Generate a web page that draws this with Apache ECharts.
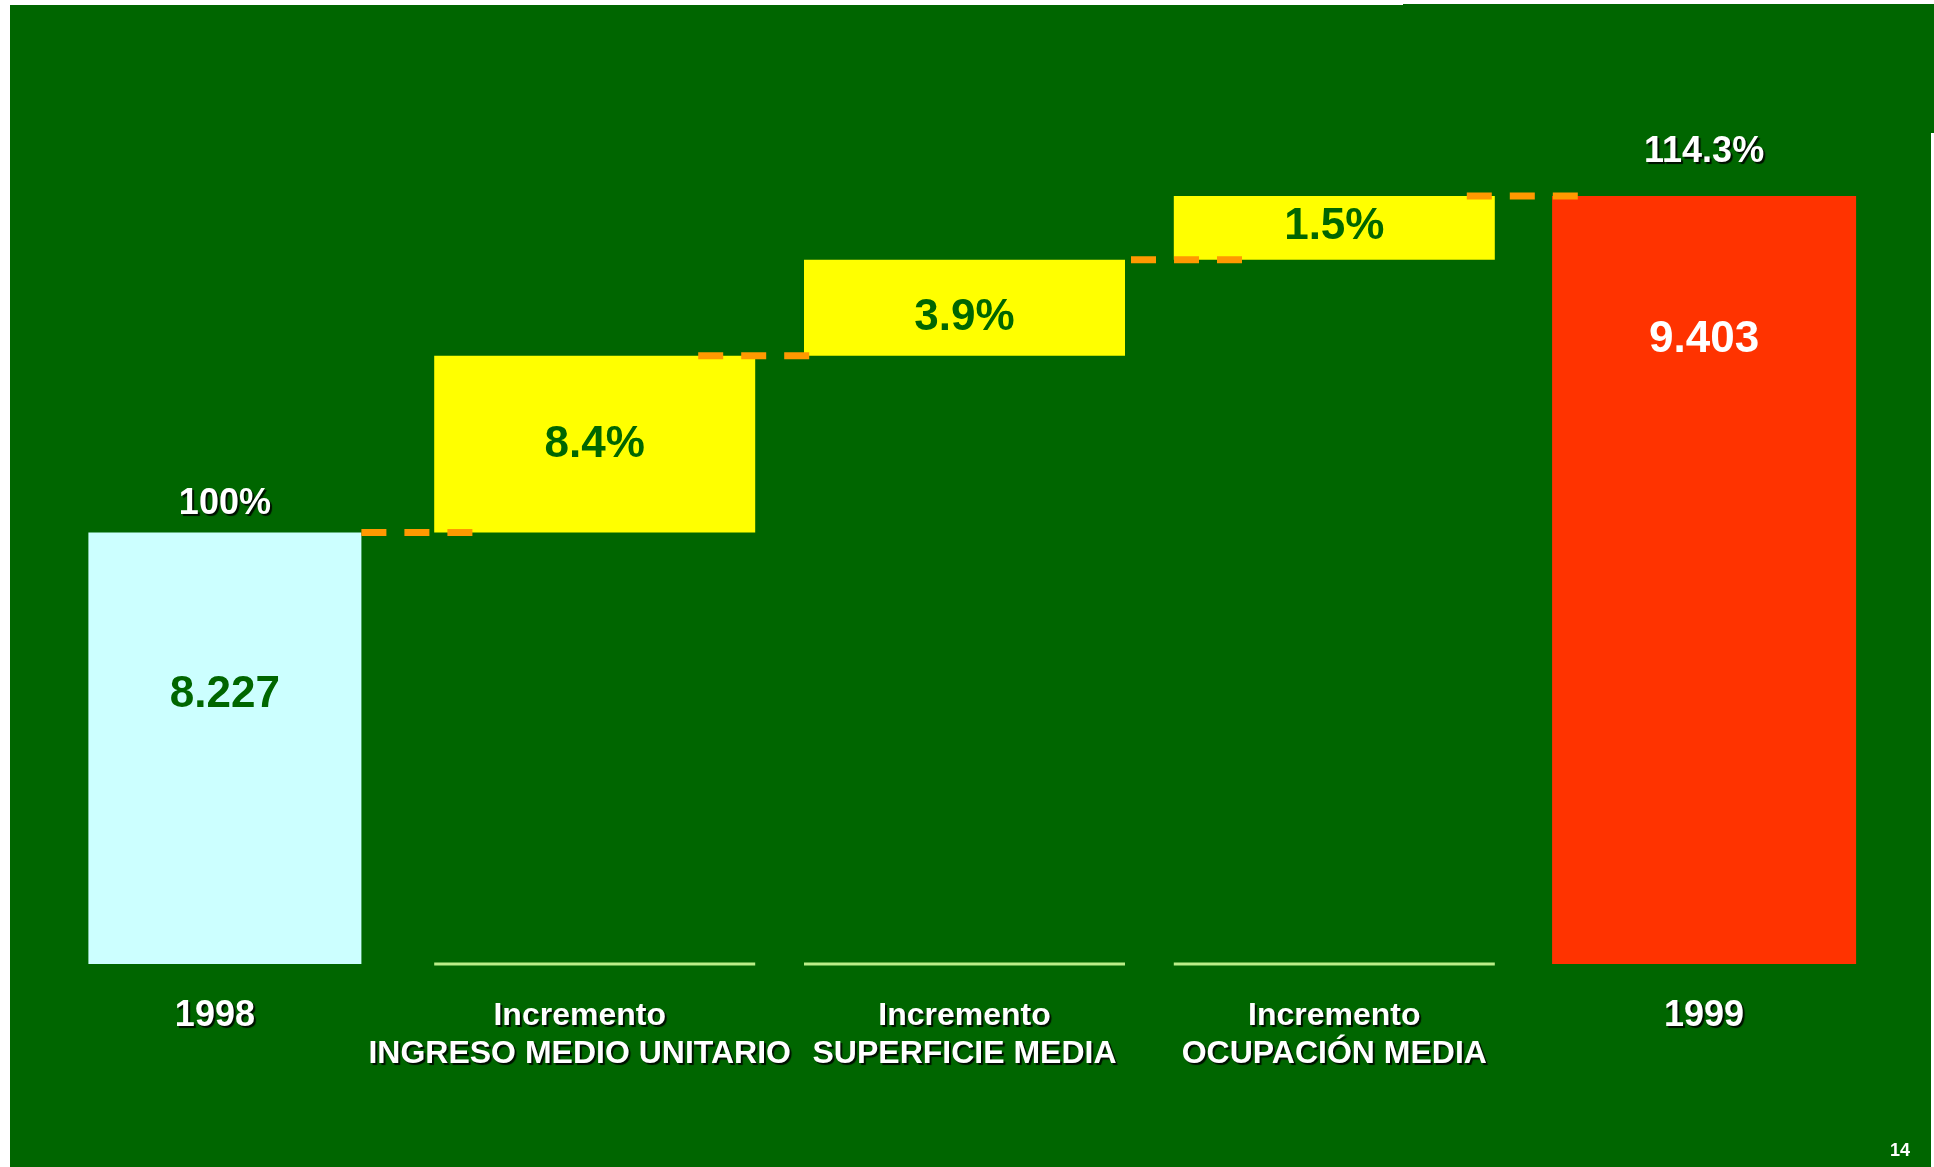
<!DOCTYPE html>
<html>
<head>
<meta charset="utf-8">
<title>Incremento 1998-1999</title>
<script src="https://cdn.jsdelivr.net/npm/echarts@6/dist/echarts.min.js"></script>
<style>
    html,body{margin:0;padding:0;background:#ffffff;}
    #main{width:1934px;height:1167px;}
</style>
</head>
<body>
<div id="main"></div>
<script>
var categories=['1998','Incremento\nINGRESO MEDIO UNITARIO','Incremento\nSUPERFICIE MEDIA','Incremento\nOCUPACIÓN MEDIA','1999'];
// altura de cada barra (100 = barra 1999)
var barLow=[0,56.2,79.2,91.7,0];
var barHigh=[56.2,79.2,91.7,100,100];
var valueLabels=['8.227','8.4%','3.9%','1.5%','9.403'];
var topLabels=['100%','','','','114.3%'];

// estilos
var fontName='"Liberation Sans", Arial, Helvetica, sans-serif';
var green='#006600';
var barColors=['#ccffff','#ffff00','#ffff00','#ffff00','#ff3300'];
var labelColors=[green,green,green,green,'#ffffff'];
var barWidths=[273,321,321,321,304];
var insideFromTop=[162,89,58,31,144];       //distancia del texto interior al borde superior
var topGap=[28,0,0,0,44];
var connectorShift=[0,-57,6,-28];           //inicio del conector respecto al borde derecho
var connectorLength=128;

function renderBar(params,api) {
    var i=params.dataIndex;
    var x=api.coord([i,0])[0];
    var yBase=api.coord([i,0])[1];
    var yLow=api.coord([i,api.value(1)])[1];
    var yHigh=api.coord([i,api.value(2)])[1];
    var w=barWidths[i];
    var children=[];
    children.push({
        type:'rect',
        shape:{x:x-w/2,y:yHigh,width:w,height:yLow-yHigh},
        style:{fill:barColors[i]}
    });
    if (api.value(1)>0){                                   //linea base de los incrementos
        children.push({
            type:'line',
            shape:{x1:x-w/2,y1:yBase,x2:x+w/2,y2:yBase},
            style:{stroke:'#bbee88',lineWidth:3}
        });
    }
    if (i<categories.length-1){                            //conector punteado
        var sx=x+w/2+connectorShift[i];
        children.push({
            type:'line',
            z2:10,
            shape:{x1:sx,y1:yHigh,x2:sx+connectorLength,y2:yHigh},
            style:{stroke:'#ff9900',lineWidth:7,lineDash:[25,18]}
        });
    }
    children.push({
        type:'text',
        z2:20,
        style:{
            text:valueLabels[i],x:x,y:yHigh+insideFromTop[i],fill:labelColors[i],
            font:'bold 44px '+fontName,align:'center',verticalAlign:'middle'
        }
    });
    if (topLabels[i]){
        children.push({
            type:'text',
            z2:20,
            style:{
                text:topLabels[i],x:x,y:yHigh-topGap[i],fill:'#ffffff',
                font:'bold 36px '+fontName,align:'center',verticalAlign:'middle',
                textShadowColor:'rgba(0,0,0,0.85)',textShadowOffsetX:2,textShadowOffsetY:2,textShadowBlur:1
            }
        });
    }
    return {type:'group',children:children};
}

var data=[];
for (var i=0;i<categories.length;i++){
    data.push([i,barLow[i],barHigh[i]]);
}

var shadow={textShadowColor:'rgba(0,0,0,0.85)',textShadowOffsetX:2,textShadowOffsetY:2,textShadowBlur:1};

var option={
    backgroundColor:'#ffffff',
    animation:false,
    graphic:[
        {type:'rect',z:-10,shape:{x:10,y:5,width:1921,height:1162},style:{fill:green}},
        {type:'rect',z:-10,shape:{x:1403,y:4,width:531,height:2},style:{fill:green}},
        {type:'rect',z:-10,shape:{x:1931,y:4,width:3,height:129},style:{fill:green}},
        {type:'text',z:100,style:{text:'14',x:1900,y:1151,fill:'#ffffff',font:'bold 18px '+fontName,
            align:'center',verticalAlign:'middle',textShadowColor:'rgba(0,0,0,0.8)',textShadowOffsetX:1,textShadowOffsetY:1}}
    ],
    grid:{left:40,right:45,top:196,bottom:203,containLabel:false,outerBoundsMode:'none'},
    xAxis:{
        type:'category',
        data:categories,
        axisLine:{show:false},
        axisTick:{show:false},
        splitLine:{show:false},
        axisLabel:{
            interval:0,
            margin:33,
            color:'#ffffff',
            formatter:function (v,idx) {
                var lines=v.split('\n');
                if (lines.length==1){
                    return idx==0 ? '{y0|'+v+'}' : '{y|'+v+'}';
                }
                var st=idx==1 ? 'c1' : 'c';                //la etiqueta larga va algo a la izquierda
                var out=[];
                for (var k=0;k<lines.length;k++){
                    out.push('{'+st+'|'+lines[k]+'}');
                }
                return out.join('\n');
            },
            rich:{
                y:Object.assign({fontSize:36,fontWeight:'bold',fontFamily:fontName,color:'#ffffff',lineHeight:38},shadow),
                y0:Object.assign({fontSize:36,fontWeight:'bold',fontFamily:fontName,color:'#ffffff',lineHeight:38,padding:[0,20,0,0]},shadow),
                c:Object.assign({fontSize:32,fontWeight:'bold',fontFamily:fontName,color:'#ffffff',lineHeight:38},shadow),
                c1:Object.assign({fontSize:32,fontWeight:'bold',fontFamily:fontName,color:'#ffffff',lineHeight:38,padding:[0,30,0,0]},shadow)
            }
        }
    },
    yAxis:{
        type:'value',
        min:0,
        max:100,
        show:false,
        splitLine:{show:false}
    },
    series:[
        {
            type:'custom',
            clip:false,
            renderItem:renderBar,
            encode:{x:0,y:[1,2]},
            data:data
        }
    ]
};

var myChart=echarts.init(document.getElementById('main'));
myChart.setOption(option);
</script>
</body>
</html>
